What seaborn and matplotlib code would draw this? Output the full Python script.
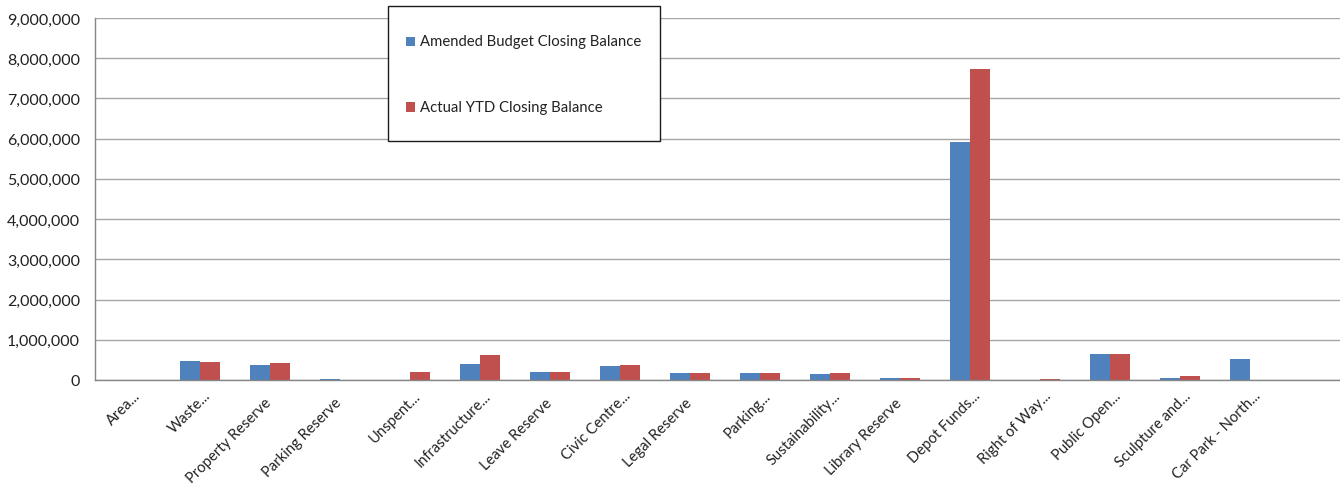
import matplotlib
matplotlib.use("Agg")
import matplotlib.pyplot as plt
from matplotlib.patches import Rectangle
from matplotlib.ticker import FuncFormatter, MultipleLocator
import matplotlib.transforms as mtransforms
import seaborn as sns
import pandas as pd

categories = [
    "Area...", "Waste...", "Property Reserve", "Parking Reserve", "Unspent...",
    "Infrastructure...", "Leave Reserve", "Civic Centre...", "Legal Reserve",
    "Parking...", "Sustainability...", "Library Reserve", "Depot Funds...",
    "Right of Way...", "Public Open...", "Sculpture and...", "Car Park - North...",
]
amended_budget = [0, 464000, 380000, 15000, 0, 405000, 199000, 347000, 174000,
                  182000, 157000, 52000, 5910000, 10000, 645000, 50000, 514000]
actual_ytd = [0, 447000, 422000, 12000, 191000, 628000, 199000, 365000, 174000,
              174000, 170000, 40000, 7720000, 20000, 640000, 92000, 10000]
series_names = ["Amended Budget Closing Balance", "Actual YTD Closing Balance"]
colors = ["#4F81BD", "#C0504D"]

df = pd.DataFrame({
    "category": categories * 2,
    "value": amended_budget + actual_ytd,
    "series": [series_names[0]] * len(categories) + [series_names[1]] * len(categories),
})

sns.set_theme(style="white")
plt.rcParams["font.family"] = ["Lato", "DejaVu Sans"]

W, H = 1340, 485
fig = plt.figure(figsize=(W / 100, H / 100), dpi=100)
ax = fig.add_axes([95.3 / W, (H - 381) / H, 1260 / W, 362 / H])

sns.barplot(data=df, x="category", y="value", hue="series", order=categories,
            hue_order=series_names, palette=colors, width=40 / 70, gap=0,
            saturation=1, edgecolor="none", linewidth=0, legend=False, ax=ax)

ax.set_xlim(-0.5, 17.5)
ax.set_ylim(0, 9_000_000)
ax.yaxis.set_major_locator(MultipleLocator(1_000_000))
ax.yaxis.set_major_formatter(FuncFormatter(lambda v, p: f"{int(v):,}"))
ax.grid(axis="y", color="#A6A6A6", linewidth=1.0)
ax.set_axisbelow(True)
ax.set_xlabel("")
ax.set_ylabel("")

for side in ["top", "right"]:
    ax.spines[side].set_visible(False)
for side in ["left", "bottom"]:
    ax.spines[side].set_color("#868686")
    ax.spines[side].set_linewidth(1.0)

ax.tick_params(axis="y", length=0, pad=11, labelsize=11.5, labelcolor="#222222")
ax.tick_params(axis="x", length=0, pad=0, labelsize=10.6, labelcolor="#222222")

# rotated category labels, baseline end placed just below each slot
for lbl in ax.get_xticklabels():
    if lbl.get_text().endswith("..."):
        dx, dy = 11, 16
    else:
        dx, dy = 2, 23
    lbl.set_rotation(45)
    lbl.set_ha("right")
    lbl.set_va("baseline")
    lbl.set_rotation_mode("anchor")
    lbl.set_transform(lbl.get_transform() +
                      mtransforms.ScaledTranslation(dx / 100, -dy / 100, fig.dpi_scale_trans))

# legend box with generous vertical spacing
fig.patches.append(Rectangle((388 / W, (H - 142) / H), 272 / W, 135 / H,
                             transform=fig.transFigure, facecolor="white",
                             edgecolor="#1a1a1a", linewidth=1.0, zorder=5))
for i, (name, col) in enumerate(zip(series_names, colors)):
    yc = 42 + i * 66
    fig.patches.append(Rectangle((406 / W, (H - yc - 4.5) / H), 9 / W, 9 / H,
                                 transform=fig.transFigure, facecolor=col,
                                 edgecolor="none", zorder=6))
    fig.text(420 / W, (H - yc) / H, name, ha="left", va="center",
             fontsize=10.7, color="#222222", zorder=7)

fig.savefig("out.png", dpi=100)
